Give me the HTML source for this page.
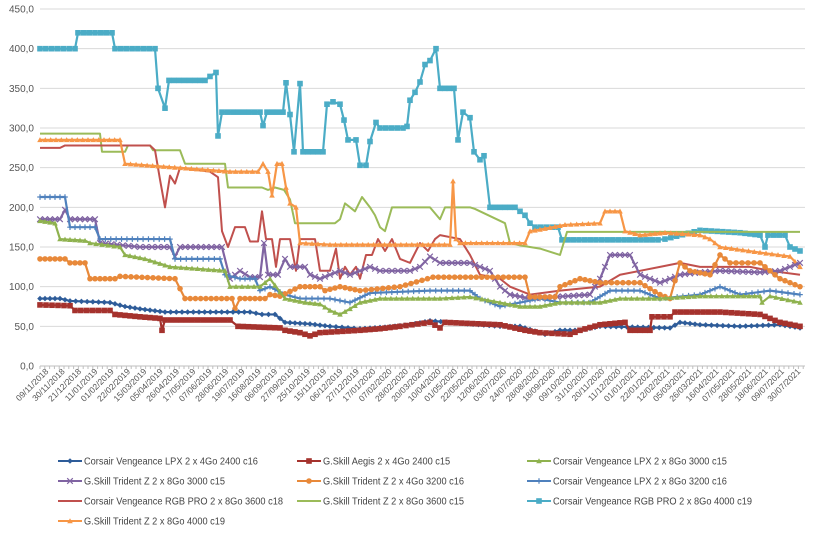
<!DOCTYPE html>
<html><head><meta charset="utf-8"><style>
body{margin:0;background:#fff;width:822px;height:533px;overflow:hidden;font-family:"Liberation Sans",sans-serif}
</style></head><body>
<svg id="s" width="822" height="533" xmlns="http://www.w3.org/2000/svg" font-family="Liberation Sans, sans-serif"></svg>
<script>
const S=document.getElementById('s');let h='';
const X0=40,X1=805,Y=v=>366-v*0.7933;
for(let i=0;i<=9;i++){const y=Y(i*50);h+=`<line x1="${X0}" x2="${X1}" y1="${y}" y2="${y}" stroke="${i?'#d9d9d9':'#bfbfbf'}" stroke-width="1"/>`;
h+=`<text x="34" y="${y+3.5}" font-size="10" fill="#555" text-anchor="end">${(i*50).toFixed(1).replace('.',',')}</text>`;}
for(let x=X0;x<=X1;x+=4.8)h+=`<line x1="${x}" x2="${x}" y1="366" y2="369" stroke="#bfbfbf"/>`;
const dates="09/11/2018,30/11/2018,21/12/2018,11/01/2019,01/02/2019,22/02/2019,15/03/2019,05/04/2019,26/04/2019,17/05/2019,07/06/2019,28/06/2019,19/07/2019,16/08/2019,06/09/2019,27/09/2019,25/10/2019,15/11/2019,06/12/2019,27/12/2019,17/01/2020,07/02/2020,28/02/2020,20/03/2020,10/04/2020,01/05/2020,22/05/2020,12/06/2020,03/07/2020,24/07/2020,28/08/2020,18/09/2020,09/10/2020,31/10/2020,20/11/2020,11/12/2020,01/01/2021,22/01/2021,12/02/2021,05/03/2021,26/03/2021,16/04/2021,07/05/2021,28/05/2021,18/06/2021,09/07/2021,30/07/2021".split(',');
dates.forEach((t,i)=>{const x=49+i*(752/46);h+=`<text transform="translate(${x},372) rotate(-45)" font-size="8.5" fill="#555" text-anchor="end">${t}</text>`;});
const ser=[
['#4bacc6','sq',3,[[40,400],[75,400],[78,420],[112,420],[115,400],[155,400],[158,350],[165,325],[169,360],[205,360],[210,365],[216,370],[218,290],[222,320],[260,320],[263,303],[267,320],[283,320],[286,357],[290,317],[294,270],[300,356],[303,270],[323,270],[327,330],[333,333],[340,330],[344,310],[348,285],[356,285],[360,253],[366,253],[370,283],[376,307],[380,300],[403,300],[407,302],[410,335],[415,345],[420,358],[425,380],[430,385],[436,400],[440,350],[454,350],[458,285],[463,320],[470,313],[474,270],[480,260],[484,265],[490,200],[515,200],[520,195],[525,190],[530,180],[535,175],[558,175],[562,159],[658,159],[665,160],[700,171],[740,168],[760,165],[765,150],[768,165],[785,165],[790,150],[800,145]]],
['#9bbb59','none',2,[[40,293],[100,293],[102,270],[125,270],[128,278],[150,278],[153,272],[180,272],[185,255],[225,255],[228,225],[262,225],[268,222],[275,225],[284,222],[290,210],[295,180],[335,180],[340,185],[345,205],[350,200],[355,195],[362,213],[370,200],[375,190],[380,175],[385,170],[392,200],[430,200],[440,185],[445,200],[470,200],[475,198],[505,180],[510,155],[520,152],[540,148],[560,140],[567,169],[800,169]]],
['#c0504d','none',2,[[40,275],[60,275],[65,278],[150,278],[155,272],[160,235],[165,200],[170,240],[175,230],[180,250],[210,245],[218,238],[222,170],[228,150],[235,175],[245,175],[250,157],[258,157],[262,195],[266,160],[272,160],[276,125],[280,160],[290,160],[296,120],[300,160],[315,160],[320,120],[330,120],[336,148],[340,110],[345,125],[350,115],[356,125],[360,110],[366,140],[372,140],[378,160],[385,145],[392,160],[400,135],[410,130],[420,155],[428,145],[435,160],[440,165],[460,160],[470,140],[480,115],[500,110],[510,100],[530,90],[560,95],[600,100],[620,115],[640,120],[660,125],[680,130],[700,125],[750,125],[770,120],[800,115]]],
['#f79646','tri',3,[[40,285],[120,285],[125,255],[230,245],[258,245],[263,255],[268,245],[272,215],[277,255],[282,255],[286,225],[290,205],[296,200],[300,155],[330,153],[450,153],[453,233],[456,160],[460,155],[525,155],[530,170],[540,172],[565,178],[600,180],[605,195],[620,195],[625,170],[640,165],[665,168],[700,165],[710,160],[720,150],[760,143],[790,138],[800,125]]],
['#8064a2','x',3,[[40,185],[60,185],[65,197],[70,185],[95,185],[100,155],[140,150],[170,150],[175,138],[180,150],[222,150],[230,110],[240,120],[250,112],[260,112],[264,155],[268,115],[278,115],[285,135],[290,125],[305,125],[310,115],[320,110],[330,115],[340,120],[350,115],[360,120],[370,125],[380,120],[410,120],[420,125],[430,138],[440,130],[470,130],[480,125],[490,120],[500,100],[510,90],[530,85],[590,90],[600,110],[610,140],[630,140],[640,115],[660,105],[680,115],[700,118],[720,120],[760,118],[780,120],[800,130]]],
['#4f81bd','plus',3,[[40,213],[65,213],[70,175],[95,175],[100,160],[170,160],[175,135],[220,135],[225,115],[240,110],[255,110],[260,95],[270,100],[285,90],[300,85],[330,85],[350,80],[370,92],[430,95],[470,95],[480,85],[490,80],[500,75],[520,80],[540,85],[560,80],[590,80],[610,95],[640,95],[660,85],[700,90],[720,100],[740,90],[770,95],[800,90]]],
['#e8893a','ci',3,[[40,135],[65,135],[70,130],[85,130],[90,110],[115,110],[120,113],[175,110],[185,85],[232,85],[235,72],[240,85],[265,85],[270,90],[280,88],[300,100],[320,100],[325,95],[340,100],[360,95],[400,100],[433,112],[525,112],[530,87],[555,87],[560,100],[580,110],[600,105],[640,105],[660,90],[670,85],[680,130],[690,120],[710,115],[720,140],[730,130],[760,130],[780,110],[800,100]]],
['#8fb24f','tri',3,[[40,183],[55,180],[60,160],[85,158],[90,155],[120,150],[125,140],[145,135],[170,125],[225,120],[230,100],[260,100],[270,110],[285,85],[305,80],[320,78],[330,70],[340,65],[350,72],[360,80],[380,85],[440,85],[470,87],[500,80],[520,75],[540,75],[560,80],[600,80],[620,85],[660,85],[700,88],[760,88],[762,80],[770,88],[800,80]]],
['#2e5c99','dia',3,[[40,85],[60,85],[70,82],[110,80],[125,75],[140,72],[165,68],[250,68],[262,65],[275,65],[280,60],[285,55],[310,53],[330,50],[360,47],[385,49],[410,52],[430,57],[500,50],[520,50],[545,40],[560,45],[580,45],[600,50],[670,48],[680,55],[700,52],[740,50],[780,52],[800,48]]],
['#a5322d','sq',3,[[40,77],[70,76],[75,70],[110,70],[115,65],[140,62],[160,60],[162,45],[165,58],[230,58],[238,50],[280,48],[285,45],[300,42],[310,38],[320,42],[360,45],[380,47],[400,50],[430,55],[440,48],[445,55],[500,52],[525,45],[540,42],[570,40],[580,45],[600,52],[625,55],[630,45],[650,45],[652,62],[670,62],[675,68],[720,68],[760,65],[780,55],[800,50]]]
];
function mk(t,x,y,c){const r=2.8;
if(t=='sq')return `<rect x="${x-r}" y="${y-r}" width="${2*r}" height="${2*r}" fill="${c}"/>`;
if(t=='ci')return `<circle cx="${x}" cy="${y}" r="${r}" fill="${c}"/>`;
if(t=='tri')return `<path d="M${x} ${y-r}L${x+r} ${y+r*.8}L${x-r} ${y+r*.8}Z" fill="${c}"/>`;
if(t=='dia')return `<path d="M${x} ${y-r}L${x+r} ${y}L${x} ${y+r}L${x-r} ${y}Z" fill="${c}"/>`;
if(t=='x')return `<path d="M${x-r} ${y-r}L${x+r} ${y+r}M${x+r} ${y-r}L${x-r} ${y+r}" stroke="${c}" stroke-width="1.2"/>`;
if(t=='plus')return `<path d="M${x-r} ${y}L${x+r} ${y}M${x} ${y-r}L${x} ${y+r}" stroke="${c}" stroke-width="1.2"/>`;return '';}
ser.forEach(([c,t,w,p])=>{const pts=p.map(([x,v])=>[x,Y(v)]);
h+=`<polyline points="${pts.map(q=>q.join(',')).join(' ')}" fill="none" stroke="${c}" stroke-width="${t=='none'?2:2.2}" stroke-linejoin="round"/>`;
if(t!='none'){for(let i=0;i<pts.length-1;i++){const [a,b]=pts[i],[e,f]=pts[i+1];const dx=e-a;const n=Math.max(1,Math.round(dx/5.5));for(let k=0;k<n;k++)h+=mk(t,a+dx*k/n,b+(f-b)*k/n,c);}h+=mk(t,...pts[pts.length-1],c);}
});
const leg=[['Corsair Vengeance LPX 2 x 4Go 2400 c16','#2e5c99','dia'],['G.Skill Aegis 2 x 4Go 2400 c15','#a5322d','sq'],['Corsair Vengeance LPX 2 x 8Go 3000 c15','#8fb24f','tri'],
['G.Skill Trident Z 2 x 8Go 3000 c15','#8064a2','x'],['G.Skill Trident Z 2 x 4Go 3200 c16','#e8893a','ci'],['Corsair Vengeance LPX 2 x 8Go 3200 c16','#4f81bd','plus'],
['Corsair Vengeance RGB PRO 2 x 8Go 3600 c18','#c0504d','none'],['G.Skill Trident Z 2 x 8Go 3600 c15','#9bbb59','none'],['Corsair Vengeance RGB PRO 2 x 8Go 4000 c19','#4bacc6','sq'],
['G.Skill Trident Z 2 x 8Go 4000 c19','#f79646','tri']];
const cx=[58,297,527],ry=[461,481,501,521];
leg.forEach(([t,c,m],i)=>{const x=cx[i%3],y=ry[Math.floor(i/3)];
h+=`<line x1="${x}" x2="${x+24}" y1="${y}" y2="${y}" stroke="${c}" stroke-width="2"/>`+mk(m,x+12,y,c);
h+=`<text x="0" y="0" transform="translate(${x+26},${y+3.5}) scale(0.88,1)" font-size="10.5" fill="#444">${t}</text>`;});
S.innerHTML=h;
</script>
</body></html>
